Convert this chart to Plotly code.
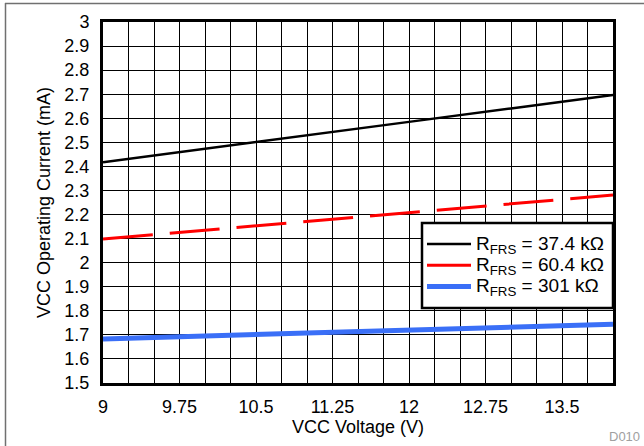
import plotly.graph_objects as go

# ---- data ----
vcc_voltage = [9, 10, 11, 12, 13, 14]
i_37k4 = [2.417, 2.472, 2.528, 2.585, 2.641, 2.697]
i_60k4 = [2.098, 2.134, 2.170, 2.207, 2.244, 2.281]
i_301k = [1.683, 1.695, 1.707, 1.720, 1.732, 1.744]

series_names = ["R<sub>FRS</sub> = 37.4 kΩ", "R<sub>FRS</sub> = 60.4 kΩ", "R<sub>FRS</sub> = 301 kΩ"]
x_tickvals = [9, 9.75, 10.5, 11.25, 12, 12.75, 13.5]
x_ticktext = ["9", "9.75", "10.5", "11.25", "12", "12.75", "13.5"]
y_tickvals = [1.5, 1.6, 1.7, 1.8, 1.9, 2.0, 2.1, 2.2, 2.3, 2.4, 2.5, 2.6, 2.7, 2.8, 2.9, 3.0]
y_ticktext = ["1.5", "1.6", "1.7", "1.8", "1.9", "2", "2.1", "2.2", "2.3", "2.4", "2.5", "2.6", "2.7", "2.8", "2.9", "3"]

FONT = "Liberation Sans, Arial, sans-serif"
FS = 18


def legend_label(name):
    return "<span style='font-size:19px'>" + name + "</span>"


fig = go.Figure()
fig.add_trace(go.Scatter(x=vcc_voltage, y=i_37k4, mode="lines", name=legend_label(series_names[0]),
                         line=dict(color="black", width=2.5)))
fig.add_trace(go.Scatter(x=vcc_voltage, y=i_60k4, mode="lines", name=legend_label(series_names[1]),
                         line=dict(color="#ff0000", width=3, dash="50px,17px")))
fig.add_trace(go.Scatter(x=vcc_voltage, y=i_301k, mode="lines", name=legend_label(series_names[2]),
                         line=dict(color="#3a6ff7", width=5)))

L, R, T, B = 103, 31, 22, 63
W, H = 644, 446
pw, ph = W - L - R, H - T - B

def px(xp):
    return (xp - L) / pw

def py(yp):
    return (H - B - yp) / ph

fig.update_layout(
    width=W, height=H,
    margin=dict(l=L, r=R, t=T, b=B),
    paper_bgcolor="white", plot_bgcolor="white",
    font=dict(family=FONT, size=FS, color="black"),
    showlegend=True,
    legend=dict(x=px(422), xanchor="left", y=py(228.5), yanchor="top",
                bgcolor="rgba(0,0,0,0)", borderwidth=0,
                font=dict(family=FONT, size=14), tracegroupgap=0,
                itemwidth=44),
    xaxis=dict(range=[9, 14], tickvals=x_tickvals, ticktext=x_ticktext,
               showgrid=True, gridcolor="black", gridwidth=1,
               minor=dict(dtick=0.25, tick0=9, showgrid=True, gridcolor="black", gridwidth=1),
               showline=True, linecolor="black", linewidth=3, mirror=True,
               ticks="", ticklabelstandoff=5, zeroline=False,
               title=dict(text="VCC Voltage (V)", standoff=3, font=dict(size=FS))),
    yaxis=dict(range=[1.5, 3], tickvals=y_tickvals, ticktext=y_ticktext,
               showgrid=True, gridcolor="black", gridwidth=1,
               showline=True, linecolor="black", linewidth=3, mirror=True,
               ticks="", ticklabelstandoff=7, zeroline=False,
               title=dict(text="VCC Operating Current (mA)", standoff=10, font=dict(size=FS))),
    shapes=[
        dict(type="rect", xref="paper", yref="paper", x0=px(422), x1=px(613), y0=py(308), y1=py(223),
             fillcolor="white", line=dict(color="black", width=2.5), layer="above"),
        dict(type="line", xref="paper", yref="paper", x0=px(5), x1=px(650), y0=py(3.5), y1=py(3.5),
             line=dict(color="#707070", width=1.5)),
        dict(type="line", xref="paper", yref="paper", x0=px(5.5), x1=px(5.5), y0=py(3), y1=py(460),
             line=dict(color="#707070", width=1.5)),
    ],
    annotations=[
        dict(text="D010", xref="paper", yref="paper", x=px(642), y=py(436),
             xanchor="right", yanchor="middle", showarrow=False,
             font=dict(family=FONT, size=13, color="#a0a0a0")),
    ],
)

fig.write_html("out.html", config={"displayModeBar": False},
               post_script="document.body.style.margin='0';document.body.style.padding='0';")
